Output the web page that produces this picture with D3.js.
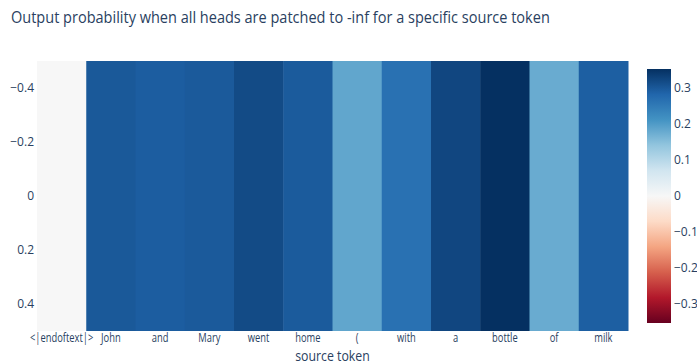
<!DOCTYPE html>
<html>
<head>
<meta charset="utf-8">
<script src="https://cdn.jsdelivr.net/npm/d3@7"></script>
<style>
  html, body { margin: 0; padding: 0; background: #fff; }
  svg { display: block; font-family: "Open Sans", "Noto Sans", sans-serif; }
</style>
</head>
<body>
<svg id="chart" width="697" height="364"></svg>
<script>
// Source tokens along the x axis
const tokens = ["<|endoftext|>", "John", "and", "Mary", "went", "home", "(", "with", "a", "bottle", "of", "milk"];
// Output probability for each patched source token
const probs = [0.0, 0.300, 0.294, 0.298, 0.318, 0.297, 0.185, 0.265, 0.324, 0.353, 0.178, 0.292];
// Axis ticks
const yTicks = [-0.4, -0.2, 0, 0.2, 0.4];
const cbTicks = [-0.3, -0.2, -0.1, 0, 0.1, 0.2, 0.3];
// Diverging RdBu palette stops (red = low, blue = high)
const rdbu = ["rgb(103,0,31)", "rgb(178,24,43)", "rgb(214,96,77)", "rgb(244,165,130)", "rgb(253,219,199)",
              "rgb(247,247,247)", "rgb(209,229,240)", "rgb(146,197,222)", "rgb(67,147,195)", "rgb(33,102,172)", "rgb(5,48,97)"];

const textColor = "#2a3f5f";
const zmax = d3.max(probs, d => Math.abs(d));
const fmt = d => d === 0 ? "0" : d3.format(".1f")(d).replace("-", "\u2212");

const svg = d3.select("#chart");
const plot = { left: 37, top: 61, width: 591, height: 270 };

const x = d3.scaleBand().domain(tokens).range([plot.left, plot.left + plot.width]).padding(0);
const y = d3.scaleLinear().domain([-0.5, 0.5]).range([plot.top, plot.top + plot.height]);
const color = d3.scaleLinear()
  .domain(d3.range(rdbu.length).map(i => -zmax + (2 * zmax) * i / (rdbu.length - 1)))
  .range(rdbu)
  .interpolate(d3.interpolateRgb);

// Title (slightly condensed)
svg.append("text")
  .attr("transform", "translate(11,23) scale(0.855,1)")
  .attr("fill", textColor)
  .attr("font-size", 17)
  .text("Output probability when all heads are patched to -inf for a specific source token");

// Heatmap cells (single row spanning y from -0.5 to 0.5)
svg.append("g").selectAll("rect")
  .data(tokens.map((t, i) => ({ token: t, value: probs[i] })))
  .join("rect")
  .attr("x", d => x(d.token))
  .attr("y", y(-0.5))
  .attr("width", x.bandwidth() + 0.5)
  .attr("height", y(0.5) - y(-0.5))
  .attr("fill", d => color(d.value));

// X axis
const xAxis = svg.append("g")
  .attr("transform", `translate(0,${plot.top + plot.height})`)
  .call(d3.axisBottom(x).tickSize(0).tickPadding(2));
xAxis.select(".domain").remove();
xAxis.selectAll("text")
  .attr("fill", textColor).attr("font-size", 12).attr("font-family", "Open Sans, sans-serif")
  .attr("transform", "scale(0.78,1)");

// Y axis
const yAxis = svg.append("g")
  .attr("transform", `translate(${plot.left},0)`)
  .call(d3.axisLeft(y).tickValues(yTicks).tickSize(0).tickPadding(3).tickFormat(fmt));
yAxis.select(".domain").remove();
yAxis.selectAll("text").attr("fill", textColor).attr("font-size", 12).attr("font-family", "Open Sans, sans-serif");

// X axis title
svg.append("text")
  .attr("transform", `translate(${plot.left + plot.width / 2},361) scale(0.88,1)`)
  .attr("text-anchor", "middle")
  .attr("fill", textColor)
  .attr("font-size", 14)
  .text("source token");

// Colorbar
const cb = { left: 647, top: 69, width: 24, height: 254 };
const cbScale = d3.scaleLinear().domain([zmax, -zmax]).range([cb.top, cb.top + cb.height]);
const defs = svg.append("defs");
const grad = defs.append("linearGradient").attr("id", "cbgrad")
  .attr("x1", 0).attr("y1", 1).attr("x2", 0).attr("y2", 0);
rdbu.forEach((c, i) => {
  grad.append("stop").attr("offset", i / (rdbu.length - 1)).attr("stop-color", c);
});
svg.append("rect")
  .attr("x", cb.left).attr("y", cb.top)
  .attr("width", cb.width).attr("height", cb.height)
  .attr("fill", "url(#cbgrad)");

const cbAxis = svg.append("g")
  .attr("transform", `translate(${cb.left + cb.width},0)`)
  .call(d3.axisRight(cbScale).tickValues(cbTicks).tickSize(0).tickPadding(3).tickFormat(fmt));
cbAxis.select(".domain").remove();
cbAxis.selectAll("text").attr("fill", textColor).attr("font-size", 12).attr("font-family", "Open Sans, sans-serif");
</script>
</body>
</html>
